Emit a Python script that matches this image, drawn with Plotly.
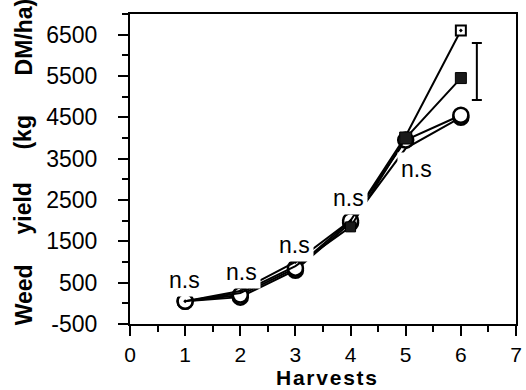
import plotly.graph_objects as go

# Harvest number on the x axis
harvests = [1, 2, 3, 4, 5, 6]

# Weed dry-matter yield (kg DM/ha) for each treatment
yield_open_square = [50, 300, 1000, 2000, 4050, 6600]
yield_filled_square = [50, 250, 900, 1850, 4000, 5450]
yield_open_circle = [50, 200, 850, 2000, 3950, 4550]
yield_circle_2 = [50, 150, 800, 1950, 3750, 4500]

# LSD bar drawn beside harvest 6
lsd_x = [6.29]
lsd_centre = [5610]
lsd_half = [690]

# "n.s" labels: (harvest position, yield position)
ns_x = [0.98, 2.02, 2.99, 3.96, 5.2]
ns_y = [565, 760, 1410, 2550, 3250]

y_ticks = [-500, 500, 1500, 2500, 3500, 4500, 5500, 6500]
x_ticks = [0, 1, 2, 3, 4, 5, 6, 7]

FONT = "Liberation Sans, Arial, sans-serif"

fig = go.Figure()

# circles shown at every harvest, squares only where they stand apart
fig.add_trace(go.Scatter(
    x=harvests, y=yield_circle_2, mode="lines+markers",
    line=dict(color="black", width=2),
    marker=dict(symbol="circle", size=[15, 15, 15, 15, 0, 15], color="white",
                opacity=1, line=dict(color="black", width=2.5)),
))
fig.add_trace(go.Scatter(
    x=harvests, y=yield_open_circle, mode="lines+markers",
    line=dict(color="black", width=2),
    marker=dict(symbol="circle", size=15, color="white", opacity=1,
                line=dict(color="black", width=2.5)),
))
fig.add_trace(go.Scatter(
    x=harvests, y=yield_open_square, mode="lines+markers",
    line=dict(color="black", width=2),
    marker=dict(symbol="square-dot", size=[0, 0, 0, 0, 0, 10], color="white",
                opacity=1, line=dict(color="black", width=2)),
))
fig.add_trace(go.Scatter(
    x=harvests, y=yield_filled_square, mode="lines+markers",
    line=dict(color="black", width=2),
    marker=dict(symbol="square", size=[0, 0, 0, 10, 12, 11], color="#1a1a1a",
                opacity=1, line=dict(color="black", width=1)),
))

# LSD bar
fig.add_trace(go.Scatter(
    x=lsd_x, y=lsd_centre, mode="markers",
    marker=dict(size=1, color="rgba(0,0,0,0)"),
    error_y=dict(type="data", array=lsd_half, visible=True,
                 color="black", thickness=2, width=5),
))

# white boxes behind the labels break the lines around them
for xv, yv in zip(ns_x, ns_y):
    fig.add_annotation(
        x=xv, y=yv, xref="x", yref="y", text="n.s", showarrow=False,
        font=dict(family=FONT, size=23, color="black"),
        bgcolor="white", borderpad=3,
    )

# y-axis title, one word per annotation
title_words = ["Weed", "yield", "(kg", "DM/ha)"]
title_pos = [0.094, 0.374, 0.619, 0.926]
for word, yp in zip(title_words, title_pos):
    fig.add_annotation(
        x=-0.276, y=yp, xref="paper", yref="paper", text=word,
        showarrow=False, textangle=-90,
        font=dict(family=FONT, size=23, color="black", weight="bold"),
        xanchor="center", yanchor="middle",
    )

fig.add_annotation(
    x=0.51, y=-0.172, xref="paper", yref="paper",
    text="H\u200aa\u200ar\u200av\u200ae\u200as\u200at\u200as",
    showarrow=False,
    font=dict(family=FONT, size=21, color="black", weight="bold"),
    xanchor="center", yanchor="middle",
)

fig.update_xaxes(
    range=[0, 7], tickvals=x_ticks, ticktext=[str(v) for v in x_ticks],
    showgrid=False, zeroline=False,
    showline=True, linecolor="black", linewidth=2, mirror=True,
    ticks="outside", ticklen=10, tickwidth=2, tickcolor="black",
    ticklabelstandoff=1, ticklabeloverflow="allow",
    minor=dict(dtick=0.5, ticks="outside", ticklen=6, tickwidth=2,
               tickcolor="black", showgrid=False),
    tickfont=dict(family=FONT, size=21, color="black"),
)
fig.update_yaxes(
    range=[-500, 7000], tickvals=y_ticks, ticktext=[str(v) for v in y_ticks],
    showgrid=False, zeroline=False,
    showline=True, linecolor="black", linewidth=2, mirror=True,
    ticks="outside", ticklen=10, tickwidth=2, tickcolor="black",
    ticklabelstandoff=16,
    minor=dict(tick0=0, dtick=1000, ticks="outside", ticklen=6, tickwidth=2,
               tickcolor="black", showgrid=False),
    tickfont=dict(family=FONT, size=23, color="black"),
)

fig.update_layout(
    width=526, height=390,
    margin=dict(l=130, r=4, t=14, b=66),
    plot_bgcolor="white", paper_bgcolor="white",
    showlegend=False,
)

fig.write_html("out.html")
